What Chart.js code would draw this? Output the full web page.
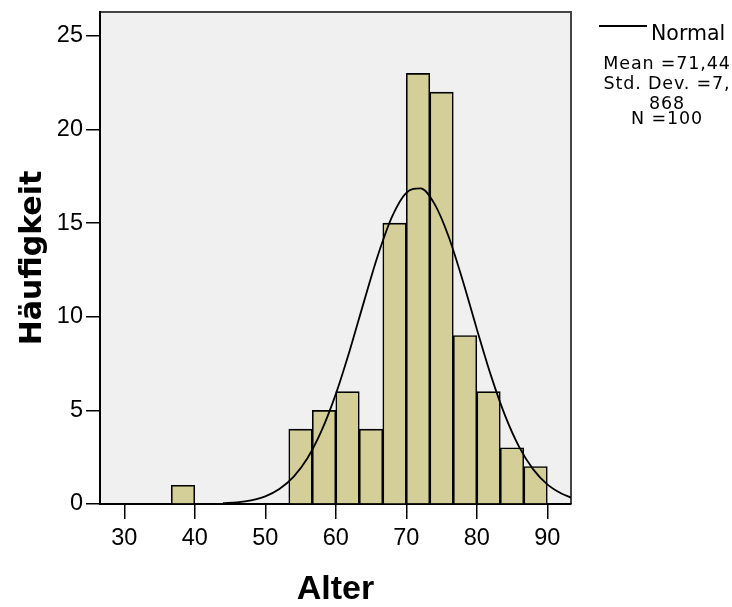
<!DOCTYPE html>
<html>
<head>
<meta charset="utf-8">
<script src="https://cdn.jsdelivr.net/npm/chart.js@4.4.0/dist/chart.umd.min.js"></script>
<style>
body { margin: 0; background: #fff; }
#wrap { position: relative; width: 732px; height: 607px; }
.leg { position: absolute; font-family: 'DejaVu Sans', sans-serif; color: #000; white-space: nowrap; line-height: 1; }
.stat { left: 567px; width: 200px; text-align: center; font-size: 17.5px; letter-spacing: 0.85px; }
</style>
</head>
<body>
<div id="wrap">
<canvas id="histChart" width="732" height="607"></canvas>
<div class="leg" style="left:599px;top:25px;width:48px;height:1.5px;background:#000;"></div>
<div class="leg" style="left:651px;top:22.5px;font-size:20.5px;">Normal</div>
<div class="leg stat" style="top:54.5px;">Mean =71,44</div>
<div class="leg stat" style="top:75.2px;">Std. Dev. =7,</div>
<div class="leg stat" style="top:95.2px;">868</div>
<div class="leg stat" style="top:110.2px;">N =100</div>
</div>
<script>
// histogram bins (Alter), width 3.333
var binStart = [36.667, 53.333, 56.667, 60, 63.333, 66.667, 70, 73.333, 76.667, 80, 83.333, 86.667];
var binWidth = 3.3333;
var counts = [1, 4, 5, 6, 4, 15, 23, 22, 9, 6, 3, 2];

// normal curve
var curveX = [44, 46, 48, 50, 52, 54, 56, 58, 60, 62, 64, 66, 68, 70, 72, 74, 76, 78, 80, 82, 84, 86, 88, 90, 92, 93.4];
var curveY = [0.04, 0.09, 0.2, 0.41, 0.8, 1.45, 2.46, 3.93, 5.87, 8.23, 10.81, 13.31, 15.36, 16.62, 16.86, 16.03, 14.29, 11.94, 9.35, 6.87, 4.73, 3.05, 1.85, 1.05, 0.56, 0.34];

var xTicks = [30, 40, 50, 60, 70, 80, 90];
var yTicks = [0, 5, 10, 15, 20, 25];

var tickFont = { family: "'Liberation Sans', Arial, sans-serif", size: 23.5 };

var plotBg = {
    id: 'plotBg',
    beforeDraw: function(chart) {
        var a = chart.chartArea, c = chart.ctx;
        c.save();
        c.fillStyle = '#f0f0f0';
        c.fillRect(a.left, a.top, a.right - a.left, a.bottom - a.top);
        c.strokeStyle = '#444';
        c.lineWidth = 2;
        c.beginPath();
        c.moveTo(a.left, a.top);
        c.lineTo(a.right, a.top);
        c.lineTo(a.right, a.bottom);
        c.stroke();
        c.restore();
    }
};

function noPad(scale) {
    scale.paddingTop = 0;
    scale.paddingBottom = 0;
    scale.paddingLeft = 0;
    scale.paddingRight = 0;
}

var ctx = document.getElementById('histChart');
var myChart = new Chart(ctx, {
    type: 'bar',
    data: {
        datasets: [{
            type: 'line',
            label: 'Normal',
            data: curveX.map(function(x, i) { return { x: x, y: curveY[i] }; }),
            borderColor: '#000',
            borderWidth: 1.8,
            pointRadius: 0,
            cubicInterpolationMode: 'monotone',
            fill: false,
            order: 0
        }, {
            label: 'Häufigkeit',
            data: binStart.map(function(s, i) { return { x: s + binWidth / 2, y: counts[i] }; }),
            backgroundColor: '#d4cf98',
            borderColor: '#000',
            borderWidth: 1.6,
            barPercentage: 1,
            categoryPercentage: 1,
            order: 1
        }]
    },
    options: {
        responsive: false,
        animation: false,
        layout: { padding: { left: 0, top: 12, right: 161, bottom: 0 } },
        plugins: {
            legend: { display: false },
            tooltip: { enabled: false }
        },
        scales: {
            x: {
                type: 'linear',
                min: 26.56,
                max: 93.36,
                offset: false,
                afterBuildTicks: function(scale) {
                    scale.ticks = xTicks.map(function(v) { return { value: v }; });
                },
                afterFit: function(scale) { scale.height = 103; noPad(scale); },
                grid: { offset: false, drawOnChartArea: false, drawTicks: true, tickLength: 15, color: '#000', lineWidth: 1.5 },
                border: { display: true, color: '#000', width: 2 },
                ticks: { color: '#000', font: tickFont, padding: 5, maxRotation: 0, autoSkip: false },
                title: {
                    display: true,
                    text: 'Alter',
                    color: '#000',
                    font: { family: "'Liberation Sans', Arial, sans-serif", size: 34, weight: 'bold', lineHeight: 1 },
                    padding: { top: 0, bottom: 0 }
                }
            },
            y: {
                min: 0,
                max: 26.28,
                afterBuildTicks: function(scale) {
                    scale.ticks = yTicks.map(function(v) { return { value: v }; });
                },
                afterFit: function(scale) { scale.width = 100; noPad(scale); },
                grid: { drawOnChartArea: false, drawTicks: true, tickLength: 14, color: '#000', lineWidth: 1.5 },
                border: { display: true, color: '#000', width: 2 },
                ticks: { color: '#000', font: tickFont, padding: 3 },
                title: {
                    display: true,
                    text: 'Häufigkeit',
                    color: '#000',
                    font: { family: "'DejaVu Sans', sans-serif", size: 30, weight: 'bold' },
                    padding: { top: 15, bottom: 0 }
                }
            }
        }
    },
    plugins: [plotBg]
});
</script>
</body>
</html>
